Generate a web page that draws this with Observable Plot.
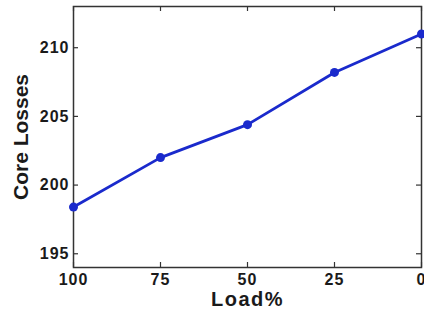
<!DOCTYPE html>
<html>
<head>
<meta charset="utf-8">
<script src="https://cdn.jsdelivr.net/npm/d3@7"></script>
<script src="https://cdn.jsdelivr.net/npm/@observablehq/plot@0.6"></script>
<style>
  html, body { margin: 0; padding: 0; background: #fff; }
  #chart svg { display: block; }
  #chart text { font-family: "Liberation Sans", Arial, sans-serif; font-weight: bold; fill: #1a1a1a; }
  #chart g[aria-label="x-axis tick label"] text,
  #chart g[aria-label="y-axis tick label"] text { font-size: 16px; letter-spacing: 1px; }
  #chart g[aria-label="x-axis label"] text { font-size: 20px; letter-spacing: 1.5px; }
  #chart g[aria-label="y-axis label"] text { font-size: 21px; letter-spacing: 0px; }
</style>
</head>
<body>
<div id="chart"></div>
<script>
const load = [100, 75, 50, 25, 0];
const coreLosses = [198.4, 202.0, 204.4, 208.2, 211.0];
const xTicks = [100, 75, 50, 25, 0];
const yTicks = [195, 200, 205, 210];

const data = load.map((l, i) => ({load: l, loss: coreLosses[i]}));

const W = 424, H = 313;
const mL = 73, mR = 3, mT = 6, mB = 46;
const pw = W - mL - mR, ph = H - mT - mB;
const tk = 5;
const blue = "#1a2acc";
const axisColor = "#333";

const chart = Plot.plot({
  width: W, height: H,
  marginLeft: mL, marginRight: mR, marginTop: mT, marginBottom: mB,
  style: {fontSize: "16px", color: "#1a1a1a", background: "#fff"},
  x: {domain: [100, 0]},
  y: {domain: [194, 213]},
  marks: [
    Plot.frame({stroke: axisColor, strokeWidth: 1.5}),
    Plot.tickY(yTicks, {y: d => d, insetRight: pw - tk, stroke: axisColor, strokeWidth: 1.2}),
    Plot.tickY(yTicks, {y: d => d, insetLeft: pw - tk, stroke: axisColor, strokeWidth: 1.2}),
    Plot.tickX(xTicks, {x: d => d, insetTop: ph - tk, stroke: axisColor, strokeWidth: 1.2}),
    Plot.tickX(xTicks, {x: d => d, insetBottom: ph - tk, stroke: axisColor, strokeWidth: 1.2}),
    Plot.axisY(yTicks, {anchor: "left", tickSize: 0, tickPadding: 4, label: "Core Losses", labelAnchor: "center", labelArrow: false, labelOffset: 60}),
    Plot.axisX(xTicks, {anchor: "bottom", tickSize: 0, tickPadding: 6, tickFormat: d => String(d), label: "Load%", labelAnchor: "center", labelArrow: false, labelOffset: 38}),
    Plot.line(data, {x: "load", y: "loss", stroke: blue, strokeWidth: 2.8}),
    Plot.dot(data, {x: "load", y: "loss", fill: blue, r: 4.5})
  ]
});
document.getElementById("chart").appendChild(chart);
</script>
</body>
</html>
